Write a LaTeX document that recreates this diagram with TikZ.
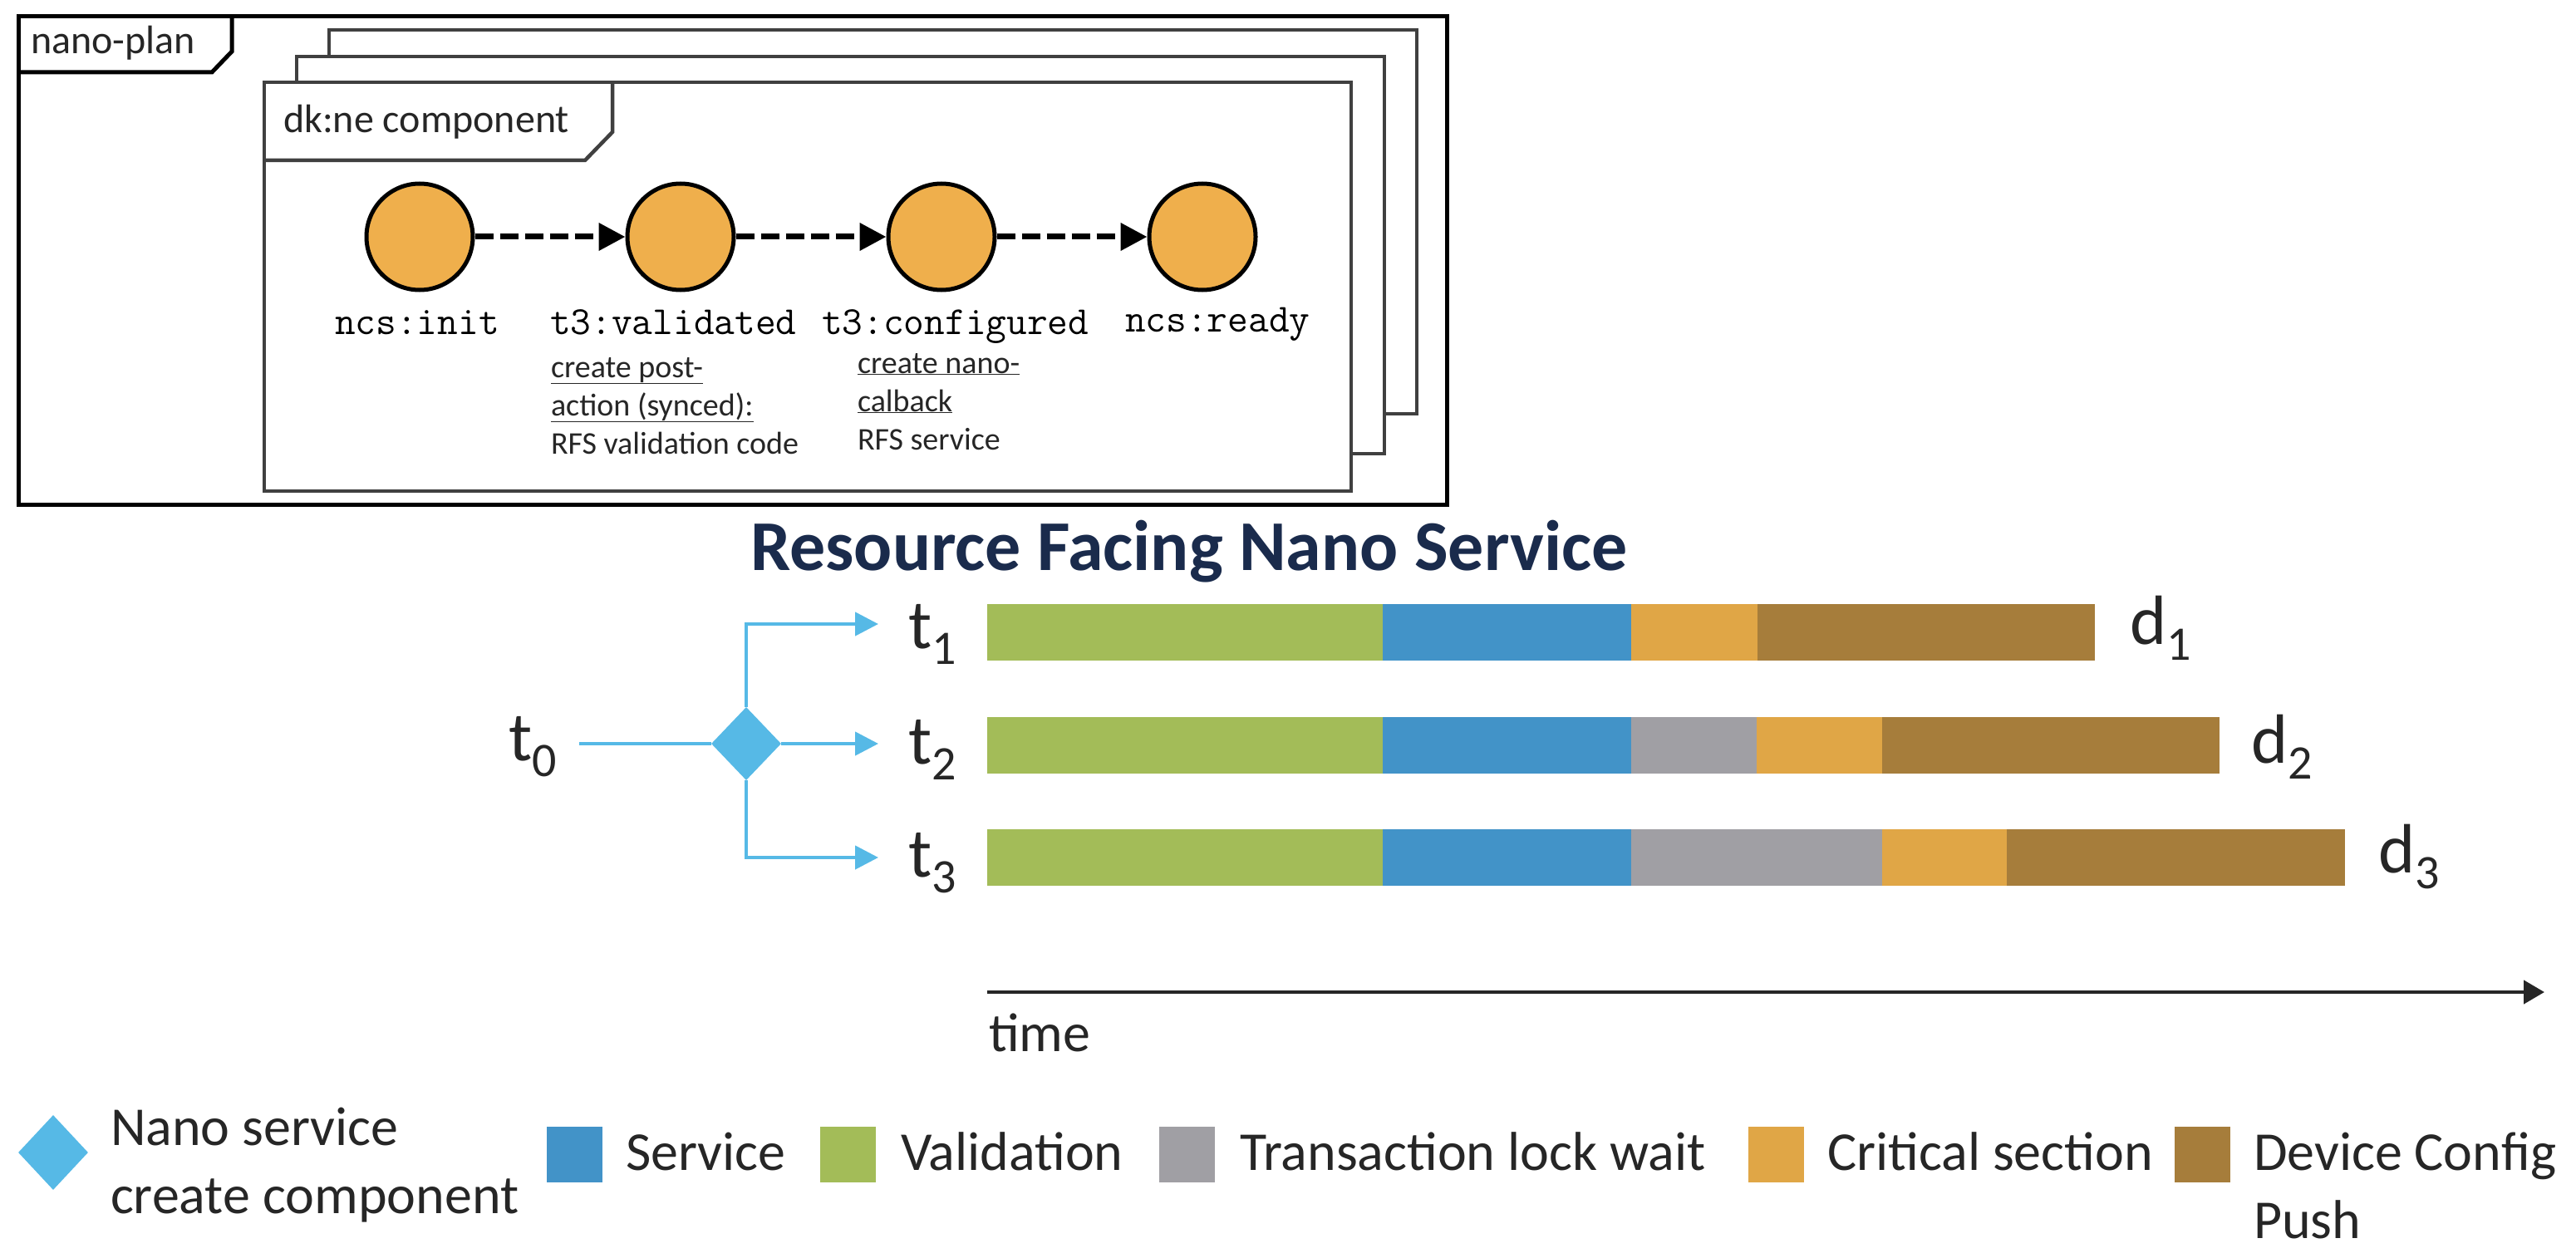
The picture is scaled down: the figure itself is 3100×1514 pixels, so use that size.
\documentclass[tikz,border=0pt]{standalone}
\usepackage{fontspec}
\setmainfont{Carlito}
\usetikzlibrary{arrows.meta,shapes.geometric}
\definecolor{txt}{HTML}{262626}
\definecolor{framegrey}{HTML}{404040}
\definecolor{circfill}{HTML}{EFAF4C}
\definecolor{cgreen}{HTML}{A3BC58}
\definecolor{cblue}{HTML}{4293C8}
\definecolor{cgrey}{HTML}{A09FA4}
\definecolor{corange}{HTML}{E0A646}
\definecolor{cbrown}{HTML}{A67D3B}
\definecolor{ctitle}{HTML}{1A2B4C}
\definecolor{lblue}{HTML}{56B9E6}
\newcommand{\lab}[2]{{\fontsize{84}{84}\selectfont #1\raisebox{-19pt}{\fontsize{58}{58}\selectfont #2}}}
\begin{document}
\begin{tikzpicture}[x=1pt,y=-1pt,
  txtnode/.style={inner sep=0pt, outer sep=0pt, text=txt},
  outerframe/.style={draw=black, line width=5pt, line join=miter},
  innerframe/.style={draw=framegrey, fill=white, line width=4.5pt, line join=miter},
  statecirc/.style={circle, minimum size=128pt, inner sep=0pt, fill=circfill, draw=black, line width=5pt},
  dasharrow/.style={line width=7pt, dash pattern=on 22pt off 8pt, -{Triangle[length=32pt,width=32pt]}},
  monolab/.style={txtnode, anchor=base west, font=\ttfamily\fontsize{48}{48}\selectfont, text=black},
  smalllab/.style={txtnode, anchor=base west, align=left, font=\fontsize{38}{46}\selectfont},
  flowline/.style={draw=lblue, line width=4.5pt},
  flowarrow/.style={flowline, -{Triangle[length=28pt,width=28pt]}},
  legtext/.style={txtnode, anchor=base west, font=\fontsize{66}{82}\selectfont},
  legsq/.style={minimum size=67pt, inner sep=0pt, draw=none},
  bigtab/.style={txtnode, anchor=base west, font=\fontsize{48}{48}\selectfont}
]
\useasboundingbox (0,0) rectangle (3100,1514);

% ---------------- nano-plan frame ----------------
\draw[outerframe] (22,20) rectangle (1741,607);
\draw[outerframe] (22,87) -- (255,87) -- (279,62) -- (279,20);
\node[bigtab] (np) at (37,65) {nano-plan};

\draw[innerframe] (396,36) rectangle (1705,498);
\draw[innerframe] (357,68) rectangle (1666,546);
\draw[innerframe] (318,99) rectangle (1626,591);
\draw[draw=framegrey, line width=4.5pt, line join=miter] (318,193) -- (704,193) -- (737,159) -- (737,99);
\node[bigtab] (dk) at (341,160) {dk:ne component};

% states
\node[statecirc] (c1) at (505,285) {};
\node[statecirc] (c2) at (819,285) {};
\node[statecirc] (c3) at (1133,285) {};
\node[statecirc] (c4) at (1447,285) {};
\draw[dasharrow] (c1) -- (c2);
\draw[dasharrow] (c2) -- (c3);
\draw[dasharrow] (c3) -- (c4);

\node[monolab] (l1) at (403,402) {ncs:init};
\node[monolab] (l2) at (662,402) {t3:validated};
\node[monolab] (l3) at (989,402) {t3:configured};
\node[monolab] (l4) at (1354,399) {ncs:ready};

% multi-line nodes: base anchor is the last line's baseline
\node[smalllab] (n2) at (663,546) {\underline{create post-}\\\underline{action (synced):}\\RFS validation code};
\node[smalllab] (n3) at (1032,541) {\underline{create nano-}\\\underline{calback}\\RFS service};

% ---------------- title ----------------
\node[txtnode, anchor=base west, text=ctitle, font=\bfseries\fontsize{86}{86}\selectfont] (title) at (903,686) {Resource Facing Nano Service};

% ---------------- flow ----------------
\node[txtnode, anchor=base west] (t0) at (612,915) {\lab{t}{0}};
\coordinate (t0end) at (697,895);
\node[diamond, fill=lblue, draw=none, minimum width=84pt, minimum height=88pt, inner sep=0pt] (dia) at (898,895) {};
\coordinate (a1) at (1057,751);
\coordinate (a2) at (1057,895);
\coordinate (a3) at (1057,1032);
\draw[flowline] (t0end) -- (dia.west);
\draw[flowarrow] (dia.north) |- (a1);
\draw[flowarrow] (dia.east) -- (a2);
\draw[flowarrow] (dia.south) |- (a3);

\node[txtnode, anchor=base west] (t1) at (1093,780) {\lab{t}{1}};
\node[txtnode, anchor=base west] (t2) at (1093,919) {\lab{t}{2}};
\node[txtnode, anchor=base west] (t3) at (1093,1055) {\lab{t}{3}};

% bars row 1
\fill[cgreen]  (1188,727) rectangle (1664,795);
\fill[cblue]   (1664,727) rectangle (1963,795);
\fill[corange] (1963,727) rectangle (2115,795);
\fill[cbrown]  (2115,727) rectangle (2521,795);
% bars row 2
\fill[cgreen]  (1188,863) rectangle (1664,931);
\fill[cblue]   (1664,863) rectangle (1963,931);
\fill[cgrey]   (1963,863) rectangle (2114,931);
\fill[corange] (2114,863) rectangle (2265,931);
\fill[cbrown]  (2265,863) rectangle (2671,931);
% bars row 3
\fill[cgreen]  (1188,998) rectangle (1664,1066);
\fill[cblue]   (1664,998) rectangle (1963,1066);
\fill[cgrey]   (1963,998) rectangle (2265,1066);
\fill[corange] (2265,998) rectangle (2415,1066);
\fill[cbrown]  (2415,998) rectangle (2822,1066);

\node[txtnode, anchor=base west] (d1) at (2563,775) {\lab{d}{1}};
\node[txtnode, anchor=base west] (d2) at (2709,918) {\lab{d}{2}};
\node[txtnode, anchor=base west] (d3) at (2862,1050) {\lab{d}{3}};

% time axis
\coordinate (tstart) at (1188,1194);
\coordinate (tend) at (3062,1194);
\draw[draw=txt, line width=4.5pt, -{Triangle[length=25pt,width=28pt]}] (tstart) -- (tend);
\node[legtext] (time) at (1190,1265) {time};

% ---------------- legend ----------------
\node[diamond, fill=lblue, draw=none, minimum width=84pt, minimum height=90pt, inner sep=0pt] (ldia) at (64,1387) {};
\node[legtext, align=left] (ldiat) at (133,1460) {Nano service\\create component};
\node[legsq, fill=cblue] (lq1) at (691.5,1389) {};
\node[legtext] (lt1) at (753,1408) {Service};
\node[legsq, fill=cgreen] (lq2) at (1020.5,1389) {};
\node[legtext] (lt2) at (1084,1408) {Validation};
\node[legsq, fill=cgrey] (lq3) at (1428,1389) {};
\node[legtext] (lt3) at (1492,1408) {Transaction lock wait};
\node[legsq, fill=corange] (lq4) at (2137,1389) {};
\node[legtext] (lt4) at (2199,1408) {Critical section};
\node[legsq, fill=cbrown] (lq5) at (2650,1389) {};
\node[legtext, align=left] (lt5) at (2712,1490) {Device Config\\Push};
\end{tikzpicture}
\end{document}
